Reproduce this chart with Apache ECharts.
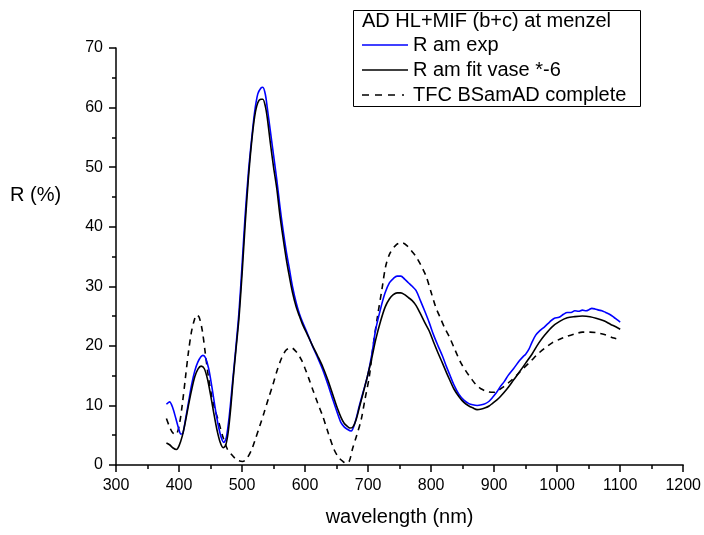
<!DOCTYPE html>
<html>
<head>
<meta charset="utf-8">
<script src="https://cdn.jsdelivr.net/npm/echarts@6/dist/echarts.min.js"></script>
<style>html,body{margin:0;padding:0;background:#fff}#c{width:704px;height:535px}</style>
</head>
<body>
<div id="c"></div>
<script>
// ---- data ----
var xTicks = [300, 400, 500, 600, 700, 800, 900, 1000, 1100, 1200];
var yTicks = [0, 10, 20, 30, 40, 50, 60, 70];
var seriesNames = ['R am exp', 'R am fit vase *-6', 'TFC BSamAD complete'];
var legendTitle = 'AD HL+MIF (b+c) at menzel';

var expWl = [380,385,390,395,400,403,406,410,415,420,425,430,435,438,442,447,452,457,462,467,471,475,480,485,490,495,500,505,510,515,520,525,530,533,537,540,545,550,555,560,565,570,575,580,586,591,596,604,612,620,628,636,644,651,657,662,667,673,680,686,692,699,706,712,720,727,734,740,746,752,758,764,770,776,783,790,797,804,811,818,824,829,836,844,852,860,866,873,880,886,892,898,904,910,916,922,931,940,946,950,955,960,966,973,980,988,995,1003,1010,1016,1022,1028,1034,1040,1046,1051,1055,1060,1066,1071,1077,1083,1090,1095,1100];
var expR  = [10.2,10.6,9.6,7.8,5.9,5.2,5.3,7.5,10.5,13.5,15.8,17.3,18.2,18.4,18.0,16.2,13.2,9.8,6.8,4.6,3.8,4.6,8.5,14.0,19.5,25.5,33.5,42.0,49.0,54.5,59.3,62.3,63.3,63.4,62.2,60.0,56.0,52.0,48.0,43.5,39.5,36.0,33.0,30.0,27.2,25.4,24.0,22.0,19.9,18.0,16.0,13.6,11.0,8.8,7.1,6.4,6.0,5.7,7.4,9.9,12.2,14.9,18.6,22.7,26.3,28.9,30.6,31.3,31.7,31.7,31.2,30.6,30.0,29.3,27.6,25.8,23.9,21.8,20.0,18.3,16.6,15.3,13.5,11.9,10.9,10.3,10.1,10.0,10.1,10.3,10.7,11.4,12.2,13.2,14.0,15.0,16.2,17.5,18.2,18.6,19.4,20.6,21.8,22.6,23.2,24.0,24.6,24.8,25.3,25.6,25.6,25.9,25.8,26.0,25.9,26.1,26.3,26.2,26.0,25.9,25.6,25.3,24.8,24.4,24.0];

var fitWl = [380,385,390,396,400,405,410,415,420,425,430,435,440,445,450,455,460,465,470,474,478,482,486,490,495,500,505,510,515,520,525,530,533,537,540,545,550,555,560,565,570,575,580,586,591,596,604,612,620,628,636,644,651,657,662,667,671,676,681,686,692,699,706,712,720,727,734,740,746,752,758,764,770,776,783,790,797,804,811,818,824,829,836,844,852,860,866,873,880,886,892,898,904,910,920,931,940,950,960,971,981,992,1004,1016,1028,1040,1052,1063,1074,1085,1093,1100];
var fitR  = [3.7,3.4,2.9,2.6,3.2,4.8,7.2,10.0,12.6,14.8,16.1,16.6,16.2,14.5,11.8,8.8,6.0,3.9,2.9,3.3,5.5,9.5,14.5,19.0,24.5,32.0,40.5,48.0,54.0,58.5,60.8,61.4,61.4,60.2,58.3,54.0,50.0,46.5,42.0,38.2,34.7,31.7,29.0,26.5,25.0,23.6,21.8,20.0,18.3,16.5,14.3,11.8,9.6,8.0,7.0,6.5,6.2,6.4,7.6,9.6,12.0,14.9,18.0,21.0,24.2,26.5,27.9,28.6,28.9,28.9,28.6,28.1,27.6,26.8,25.4,23.9,22.5,20.6,18.8,17.1,15.6,14.4,12.8,11.5,10.5,9.9,9.6,9.3,9.4,9.6,9.9,10.4,10.9,11.5,12.7,14.3,15.6,17.1,18.6,20.5,21.9,23.2,24.1,24.7,24.9,25.0,24.9,24.6,24.2,23.6,23.2,22.8];

var tfcWl = [380,385,390,395,400,405,410,415,420,425,428,432,437,442,447,452,457,462,470,477,483,490,495,501,507,515,521,528,535,542,549,556,563,570,578,586,594,600,606,612,620,628,637,646,653,660,665,670,675,682,689,695,702,708,715,722,728,735,745,754,762,770,776,784,792,800,807,815,822,829,838,847,855,863,871,879,890,900,913,926,937,947,958,968,980,992,1004,1016,1028,1040,1052,1063,1075,1090,1100];
var tfcR  = [7.8,6.4,5.4,5.1,6.5,10.0,14.5,19.0,22.5,24.6,25.2,24.8,22.5,18.5,14.5,11.5,9.3,7.6,4.6,2.6,1.8,1.0,0.7,0.6,1.0,2.5,4.3,6.5,8.8,11.2,13.5,16.0,18.0,19.3,19.7,19.0,17.7,16.2,14.5,12.7,10.4,8.2,5.3,2.6,1.3,0.6,0.3,0.6,2.6,5.0,7.6,11.0,14.9,20.0,25.0,29.5,33.4,35.6,37.0,37.3,36.8,35.8,35.0,33.5,31.7,29.0,26.6,24.6,22.9,21.5,19.3,17.2,15.8,14.6,13.5,12.8,12.3,12.2,13.0,14.1,15.2,16.3,17.4,18.5,19.6,20.5,21.1,21.6,22.0,22.3,22.3,22.2,21.9,21.3,21.0];

function pairs(xs, ys) { return xs.map(function (x, i) { return [x, ys[i]]; }); }

var FONT = '"Liberation Sans", Arial, sans-serif';
var ICON_SOLID = 'path://M0,0H46V1.6H0Z';
var ICON_DASH = 'path://M0,0H7V1.6H0Z M13,0H20V1.6H13Z M26,0H33V1.6H26Z M40,0H42V1.6H40Z M46,0H46V1.6H46Z';

var chart = echarts.init(document.getElementById('c'), null, { renderer: 'canvas' });
chart.setOption({
  animation: false,
  backgroundColor: '#ffffff',
  grid: { left: 116, right: 20, top: 48, bottom: 70, containLabel: false },
  title: [
    { text: legendTitle, left: 362, top: 11, padding: 0,
      textStyle: { fontFamily: FONT, fontSize: 20, fontWeight: 'normal', color: '#000' } },
    { text: 'R (%)', left: 10, top: 185, padding: 0,
      textStyle: { fontFamily: FONT, fontSize: 20, fontWeight: 'normal', color: '#000' } }
  ],
  graphic: [
    { type: 'rect', left: 351, top: 8, shape: { width: 287, height: 96 },
      style: { fill: 'none', stroke: '#000', lineWidth: 1 }, z: 10 }
  ],
  legend: {
    orient: 'vertical', left: 362, top: 35, padding: 0,
    itemWidth: 46, itemHeight: 1.6, itemGap: 5,
    symbolKeepAspect: false,
    data: [
      { name: seriesNames[0], icon: ICON_SOLID, itemStyle: { color: '#0000ff' } },
      { name: seriesNames[1], icon: ICON_SOLID, itemStyle: { color: '#000000' } },
      { name: seriesNames[2], icon: ICON_DASH, itemStyle: { color: '#000000' } }
    ],
    textStyle: { fontFamily: FONT, fontSize: 20, color: '#000', lineHeight: 20 }
  },
  xAxis: {
    type: 'value', min: xTicks[0], max: xTicks[xTicks.length - 1], interval: 100,
    name: 'wavelength (nm)', nameLocation: 'middle', nameGap: 42,
    nameTextStyle: { fontFamily: FONT, fontSize: 20, color: '#000' },
    axisLine: { show: true, onZero: false, lineStyle: { color: '#000', width: 1.5 } },
    axisTick: { show: true, inside: false, length: 7, lineStyle: { color: '#000', width: 1.5 } },
    minorTick: { show: true, splitNumber: 2, length: 4, lineStyle: { color: '#000', width: 1.5 } },
    splitLine: { show: false },
    axisLabel: { fontFamily: FONT, fontSize: 16, color: '#000', margin: 13,
      formatter: function (v) { return String(v); } }
  },
  yAxis: {
    type: 'value', min: yTicks[0], max: yTicks[yTicks.length - 1], interval: 10,
    axisLine: { show: true, onZero: false, lineStyle: { color: '#000', width: 1.5 } },
    axisTick: { show: true, inside: false, length: 7, lineStyle: { color: '#000', width: 1.5 } },
    minorTick: { show: true, splitNumber: 2, length: 4, lineStyle: { color: '#000', width: 1.5 } },
    splitLine: { show: false },
    axisLabel: { fontFamily: FONT, fontSize: 16, color: '#000', margin: 13,
      formatter: function (v) { return String(v); } }
  },
  series: [
    { name: seriesNames[2], type: 'line', data: pairs(tfcWl, tfcR), symbol: 'none', smooth: 0.3,
      lineStyle: { color: '#000', width: 1.6, type: [6, 5] }, itemStyle: { color: '#000' }, z: 2 },
    { name: seriesNames[0], type: 'line', data: pairs(expWl, expR), symbol: 'none', smooth: 0.3,
      lineStyle: { color: '#0000ff', width: 1.6 }, itemStyle: { color: '#0000ff' }, z: 3 },
    { name: seriesNames[1], type: 'line', data: pairs(fitWl, fitR), symbol: 'none', smooth: 0.3,
      lineStyle: { color: '#000', width: 1.6 }, itemStyle: { color: '#000' }, z: 4 }
  ]
});
</script>
</body>
</html>
